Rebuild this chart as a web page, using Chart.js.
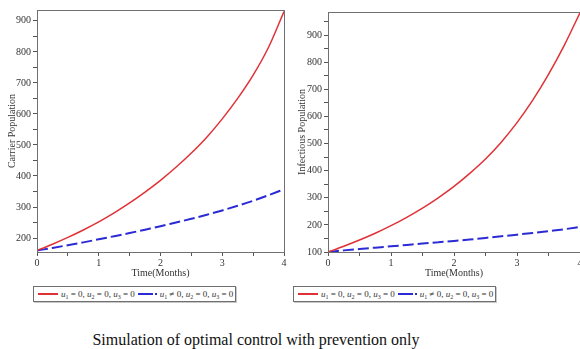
<!DOCTYPE html>
<html>
<head>
<meta charset="utf-8">
<script src="https://cdn.jsdelivr.net/npm/chart.js@4.4.1/dist/chart.umd.min.js"></script>
<style>
  html, body { margin:0; padding:0; background:#fff; }
  body { width:580px; height:349px; position:relative; overflow:hidden; font-family:"Liberation Serif", "Times New Roman", serif; }
  canvas { position:absolute; top:0; }
  #carrierChart { left:0; }
  #infectChart { left:290px; }
  .legend { position:absolute; top:286px; height:14px; border:1px solid #6f6f6f; box-shadow:1px 1px 0 #c8c8c8;
            font-size:9px; color:#333; white-space:nowrap; line-height:14px; padding:0 2px; display:flex; align-items:center; }
  .legend sub { font-size:6px; vertical-align:-2px; line-height:0; }
  .legend i { font-style:italic; }
  .swatch { display:inline-block; width:20px; height:0; border-top:2px solid; margin:0 3px 0 2px; }
  .dot { display:inline-block; width:2px; height:2px; margin:0 3px 0 -1px; }
  #caption { position:absolute; left:0; width:512px; top:332px; text-align:center; font-size:16px; line-height:16px; color:#111; }
</style>
</head>
<body>
<canvas id="carrierChart" width="290" height="280"></canvas>
<canvas id="infectChart" width="300" height="280"></canvas>
<div class="legend" id="legendCarrier" style="left:33px;"></div>
<div class="legend" id="legendInfect" style="left:293px;"></div>
<div id="caption">Simulation of optimal control with prevention only</div>

<script>
/* 데이터 */
var months = [0, 0.25, 0.5, 0.75, 1, 1.25, 1.5, 1.75, 2, 2.25, 2.5, 2.75, 3, 3.25, 3.5, 3.75, 4];
var seriesLabels = ['u1 = 0, u2 = 0, u3 = 0', 'u1 \u2260 0, u2 = 0, u3 = 0'];

// Carrier Population
var carrierNoControl = [160, 180, 202, 226, 252, 281, 313, 348, 386, 428, 474, 525, 584, 650, 725, 815, 930];
var carrierPrevention = [160, 168, 177, 186, 196, 206, 216, 227, 238, 250, 262, 275, 289, 304, 320, 338, 357];

// Infectious Population
var infectNoControl = [100, 121, 144, 169, 197, 228, 262, 300, 342, 390, 443, 505, 577, 660, 755, 862, 982];
var infectPrevention = [100, 106, 111, 116, 121, 126, 131, 136, 141, 146, 152, 158, 164, 170, 177, 184, 192];

var xTickLabels = [0, 1, 2, 3, 4];
var carrierYTicks = [200, 300, 400, 500, 600, 700, 800, 900];
var infectYTicks = [100, 200, 300, 400, 500, 600, 700, 800, 900];

var redColor = '#e03236';
var blueColor = '#2b2bd6';
var serif = '"Liberation Serif", "Times New Roman", serif';
var tickFont = { family: serif, size: 10 };

// 플롯 테두리
var frameBox = {
  id: 'frameBox',
  afterDraw: function(chart) {
    var a = chart.chartArea, ctx = chart.ctx;
    ctx.save();
    ctx.strokeStyle = '#707070';
    ctx.lineWidth = 1;
    ctx.strokeRect(Math.round(a.left) + 0.5, Math.round(a.top) + 0.5, Math.round(a.right - a.left), Math.round(a.bottom - a.top));
    ctx.restore();
  }
};

function toPoints(values) {
  var pts = [];
  for (var i = 0; i < months.length; i++) {
    pts.push({ x: months[i], y: values[i] });
  }
  return pts;
}

function makeChart(canvasId, yTitle, redData, blueData, yMin, yMax, yLabels, opt) {
  return new Chart(document.getElementById(canvasId), {
    type: 'line',
    data: {
      datasets: [{
        label: seriesLabels[0],
        data: toPoints(redData),
        borderColor: redColor,
        borderWidth: 1.5,
        pointRadius: 0,
        cubicInterpolationMode: 'monotone'
      },
      {
        label: seriesLabels[1],
        data: toPoints(blueData),
        borderColor: blueColor,
        borderWidth: 2,
        borderDash: [11, 4],
        pointRadius: 0,
        cubicInterpolationMode: 'monotone'
      }]
    },
    options: {
      responsive: false,
      animation: false,
      devicePixelRatio: 1,
      layout: { padding: { top: opt.top, right: opt.right, left: 0, bottom: 0 } },
      plugins: { legend: { display: false }, tooltip: { enabled: false } },
      scales: {
        x: {
          type: 'linear',
          min: 0,
          max: 4,
          afterFit: function(scale) { scale.height = 28; },
          afterBuildTicks: function(scale) {
            var t = [];
            for (var v = 0; v <= 4; v += 0.5) t.push({ value: v });
            scale.ticks = t;
          },
          border: { display: false },
          grid: { drawOnChartArea: false, tickLength: 4, color: '#555' },
          ticks: {
            font: tickFont, color: '#333', padding: 1, maxRotation: 0, autoSkip: false,
            callback: function(value) { return xTickLabels.indexOf(value) >= 0 ? String(value) : ''; }
          },
          title: { display: true, text: 'Time(Months)', font: tickFont, color: '#333', padding: { top: 0, bottom: 1 } }
        },
        y: {
          min: yMin,
          max: yMax,
          afterFit: function(scale) { scale.width = opt.yWidth; },
          afterBuildTicks: function(scale) {
            var t = [];
            for (var v = Math.ceil(yMin / 50) * 50; v <= yMax; v += 50) t.push({ value: v });
            scale.ticks = t;
          },
          border: { display: false },
          grid: { drawOnChartArea: false, tickLength: 4, color: '#555' },
          ticks: {
            font: tickFont, color: '#333', padding: 2, autoSkip: false,
            callback: function(value) { return yLabels.indexOf(value) >= 0 ? String(value) : ''; }
          },
          title: { display: true, text: yTitle, font: tickFont, color: '#333', padding: { top: 6, bottom: 0 } }
        }
      }
    },
    plugins: [frameBox]
  });
}

makeChart('carrierChart', 'Carrier Population', carrierNoControl, carrierPrevention, 155, 935, carrierYTicks,
  { top: 10, right: 6, yWidth: 37 });
makeChart('infectChart', 'Infectious Population', infectNoControl, infectPrevention, 100, 985, infectYTicks,
  { top: 12, right: 10, yWidth: 38 });

// 범례 (HTML)
function fmtLabel(s) {
  return s.replace(/u(\d)/g, '<i>u</i><sub>$1</sub>');
}
function buildLegend(id) {
  var el = document.getElementById(id);
  el.innerHTML =
    '<span class="swatch" style="border-color:' + redColor + '"></span>' +
    '<span>' + fmtLabel(seriesLabels[0]) + '</span>' +
    '<span class="swatch" style="border-color:' + blueColor + ';width:15px;margin-left:3px"></span>' +
    '<span class="dot" style="background:' + blueColor + '"></span>' +
    '<span>' + fmtLabel(seriesLabels[1]) + '</span>';
}
buildLegend('legendCarrier');
buildLegend('legendInfect');
</script>
</body>
</html>
